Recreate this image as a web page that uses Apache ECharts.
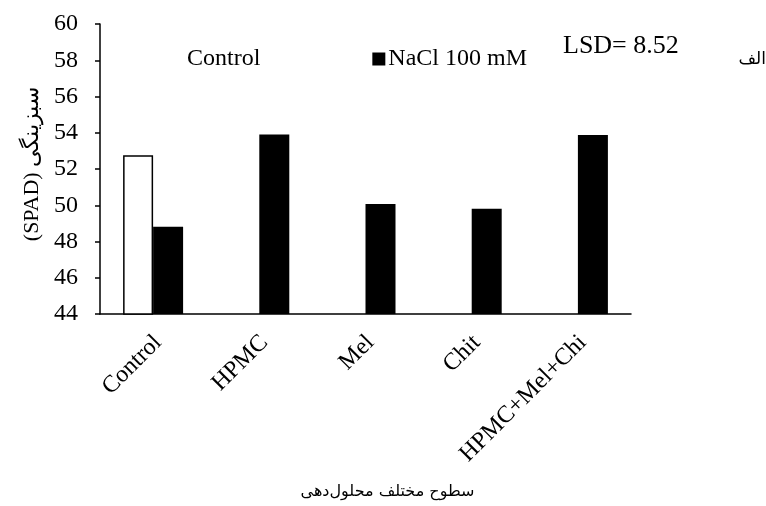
<!DOCTYPE html>
<html>
<head>
<meta charset="utf-8">
<script src="https://cdn.jsdelivr.net/npm/echarts@6/dist/echarts.min.js"></script>
<style>html,body{margin:0;padding:0;background:#fff}#c{width:766px;height:506px}</style>
</head>
<body>
<div id="c"></div>
<script>
const categories = ['Control', 'HPMC', 'Mel', 'Chit', 'HPMC+Mel+Chi'];
const controlValues = [52.76, null, null, null, null];
const naclValues = [48.82, 53.91, 50.07, 49.81, 53.88];
const seriesNames = ['Control', 'NaCl 100 mM'];
const yMin = 44, yMax = 60, yStep = 2;
const yAxisTitle = '(SPAD) سبزینگی';
const xAxisTitle = 'سطوح مختلف محلول‌دهی';
const lsdText = 'LSD= 8.52';
const panelTag = 'الف';

const serif = '"Liberation Serif", "Times New Roman", serif';
const arabic = '"DejaVu Sans", sans-serif';

const chart = echarts.init(document.getElementById('c'), null, {renderer: 'canvas'});
chart.setOption({
  animation: false,
  backgroundColor: '#fff',
  grid: {left: 100, right: 135, top: 24, bottom: 192, containLabel: false},
  legend: {
    left: 166, top: 42,
    icon: 'rect',
    itemWidth: 13, itemHeight: 13, itemGap: 112,
    textStyle: {fontFamily: serif, fontSize: 24, color: '#000', padding: [0,0,0,-2]},
    data: [
      {name: seriesNames[0], itemStyle: {color: '#fff', borderWidth: 0}},
      {name: seriesNames[1], itemStyle: {color: '#000', borderWidth: 0}}
    ]
  },
  xAxis: {
    type: 'category',
    data: categories,
    axisLine: {lineStyle: {color: '#000', width: 1.5}},
    axisTick: {show: false},
    axisLabel: {rotate: 45, fontFamily: serif, fontSize: 24, color: '#000', margin: 30, interval: 0, padding: [0, -7, 0, 0]},
    name: xAxisTitle,
    nameLocation: 'middle',
    nameGap: 170,
    nameTextStyle: {fontFamily: arabic, fontSize: 16, color: '#000', padding: [0, 0, 0, 44]}
  },
  yAxis: {
    type: 'value',
    min: yMin, max: yMax, interval: yStep,
    splitLine: {show: false},
    axisLine: {show: true, lineStyle: {color: '#000', width: 1.5}},
    axisTick: {show: true, length: 5, lineStyle: {color: '#000', width: 1.5}},
    axisLabel: {fontFamily: serif, fontSize: 24, color: '#000', margin: 22},
    name: yAxisTitle,
    nameLocation: 'middle',
    nameGap: 56,
    nameTextStyle: {fontFamily: serif, fontSize: 22, color: '#000', padding: [0, 0, 0, 10]}
  },
  graphic: [
    {type: 'text', left: 563, top: 33, style: {text: lsdText, font: '26px ' + serif, fill: '#000'}},
    {type: 'text', right: 0, top: 51, style: {text: panelTag, font: '17px ' + arabic, fill: '#000'}}
  ],
  series: [
    {
      name: seriesNames[0], type: 'bar', data: controlValues,
      barWidth: 30, barGap: '0%',
      itemStyle: {color: '#fff', borderColor: '#000', borderWidth: 1.5}
    },
    {
      name: seriesNames[1], type: 'bar', data: naclValues,
      barWidth: 30, barGap: '0%',
      itemStyle: {color: '#000', borderColor: '#000', borderWidth: 0}
    }
  ]
});
</script>
</body>
</html>
